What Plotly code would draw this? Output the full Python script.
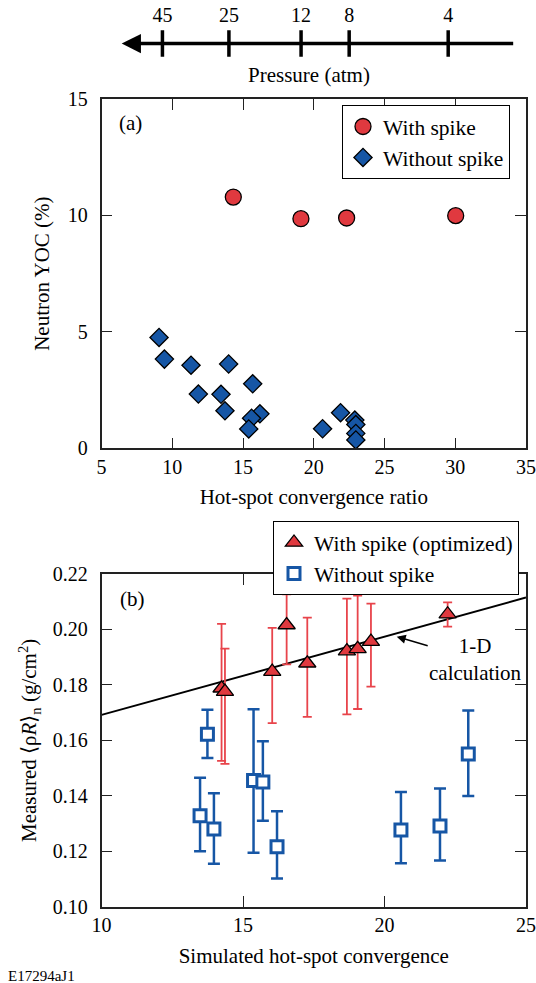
import plotly.graph_objects as go

# ---------------- data ----------------
# pressure scale (top arrow axis): pressure labels placed at convergence-ratio positions
pressure_labels = ["45", "25", "12", "8", "4"]
pressure_conv = [9.3, 14.0, 19.1, 22.5, 29.5]
pressure_arrow_x = [6.42, 34.2]

# panel (a): neutron YOC vs hot-spot convergence ratio
a_with_x = [14.31, 19.09, 22.32, 30.03]
a_with_y = [10.79, 9.86, 9.89, 9.99]
a_without_x = [9.06, 9.44, 11.32, 13.98, 15.68, 11.84, 13.44, 13.72, 16.19,
               15.60, 15.40, 20.62, 21.89, 22.90, 22.97, 22.97, 22.97]
a_without_y = [4.76, 3.83, 3.57, 3.62, 2.77, 2.33, 2.32, 1.61, 1.48,
               1.29, 0.83, 0.84, 1.53, 1.21, 1.02, 0.64, 0.36]

# panel (b): measured rhoR vs simulated convergence
b_with_x = [14.24, 14.36, 16.03, 16.54, 17.27, 18.67, 19.05, 19.52, 22.23]
b_with_y = [0.1788, 0.1776, 0.1848, 0.2016, 0.1878, 0.1922, 0.1930, 0.1956, 0.2055]
b_with_hi = [0.2020, 0.1931, 0.2006, 0.2127, 0.2043, 0.2111, 0.2122, 0.2093, 0.2098]
b_with_lo = [0.1526, 0.1515, 0.1662, 0.1874, 0.1685, 0.1694, 0.1713, 0.1794, 0.2010]

b_without_x = [13.48, 13.74, 13.97, 15.37, 15.70, 16.20, 20.58, 21.96, 22.96]
b_without_y = [0.1328, 0.1622, 0.1280, 0.1455, 0.1450, 0.1216, 0.1277, 0.1291, 0.1551]
b_without_hi = [0.1465, 0.1710, 0.1409, 0.1712, 0.1597, 0.1344, 0.1414, 0.1426, 0.1708]
b_without_lo = [0.1200, 0.1536, 0.1155, 0.1195, 0.1310, 0.1102, 0.1157, 0.1167, 0.1399]

calc_x = [10, 25]
calc_y = [0.1692, 0.2115]

# ---------------- style ----------------
W, H = 536, 983
FONT = "Liberation Serif, Times New Roman, serif"
RED = "#e0393f"
RED_ERR = "#e8444b"
BLUE = "#1656a5"
AX = "#222222"
TICK_SIZE = 20
TITLE_SIZE = 21

def px_x(p):
    return p / W

def px_y(p):
    return 1 - p / H

xdom = [px_x(101.6), px_x(526)]

fig = go.Figure()

# ---- pressure arrow axis ----
fig.add_trace(go.Scatter(
    x=pressure_conv, y=[0] * len(pressure_conv), mode="markers",
    marker=dict(symbol="line-ns", size=19, line=dict(width=3.5, color="black")),
    xaxis="x3", yaxis="y3", showlegend=False, hoverinfo="skip"))

# ---- panel (a) ----
fig.add_trace(go.Scatter(
    x=a_with_x, y=a_with_y, mode="markers", name="With spike",
    marker=dict(symbol="circle", size=16, color=RED, line=dict(width=1.3, color="black")),
    xaxis="x", yaxis="y", legend="legend"))
fig.add_trace(go.Scatter(
    x=a_without_x, y=a_without_y, mode="markers", name="Without spike",
    marker=dict(symbol="diamond", size=14, color=BLUE, line=dict(width=1.3, color="black")),
    xaxis="x", yaxis="y", legend="legend"))

# ---- panel (b) ----
fig.add_trace(go.Scatter(
    x=calc_x, y=calc_y, mode="lines", line=dict(color="black", width=2),
    xaxis="x2", yaxis="y2", showlegend=False, hoverinfo="skip"))
fig.add_trace(go.Scatter(
    x=b_with_x, y=b_with_y, mode="markers", name="With spike (optimized)",
    marker=dict(symbol="triangle-up", size=15, color=RED, line=dict(width=1.3, color="black")),
    error_y=dict(type="data", symmetric=False,
                 array=[h - y for h, y in zip(b_with_hi, b_with_y)],
                 arrayminus=[y - l for y, l in zip(b_with_y, b_with_lo)],
                 color=RED_ERR, thickness=1.8, width=4.5),
    xaxis="x2", yaxis="y2", legend="legend2"))
fig.add_trace(go.Scatter(
    x=b_without_x, y=b_without_y, mode="markers", name="Without spike",
    marker=dict(symbol="square", size=12, color="white", line=dict(width=3, color=BLUE)),
    error_y=dict(type="data", symmetric=False,
                 array=[h - y for h, y in zip(b_without_hi, b_without_y)],
                 arrayminus=[y - l for y, l in zip(b_without_y, b_without_lo)],
                 color=BLUE, thickness=2.5, width=6),
    xaxis="x2", yaxis="y2", legend="legend2"))

axis_common = dict(showgrid=False, zeroline=False, showline=True, linecolor=AX, linewidth=1.5,
                   mirror="ticks", ticks="inside", ticklen=11, tickwidth=1.3, tickcolor=AX,
                   automargin=False,
                   tickfont=dict(family=FONT, size=TICK_SIZE, color="black"),
                   title_font=dict(family=FONT, size=TITLE_SIZE, color="black"))

LEG_FONT = dict(family=FONT, size=21.5, color="black")

fig.update_layout(
    width=W, height=H, margin=dict(l=0, r=0, t=0, b=0),
    paper_bgcolor="white", plot_bgcolor="white",
    font=dict(family=FONT, size=TICK_SIZE, color="black"),
    xaxis=dict(domain=xdom, anchor="y", range=[5, 35], tickvals=[5, 10, 15, 20, 25, 30, 35],
               title=dict(text="Hot-spot convergence ratio", standoff=12), **axis_common),
    yaxis=dict(domain=[px_y(448.3), px_y(99)], anchor="x", range=[0, 15], tickvals=[0, 5, 10, 15],
               title=dict(text="Neutron YOC (%)", standoff=12), ticklabelstandoff=8, **axis_common),
    xaxis2=dict(domain=xdom, anchor="y2", range=[10, 25], tickvals=[10, 15, 20, 25],
                title=dict(text="Simulated hot-spot convergence", standoff=13), **axis_common),
    yaxis2=dict(domain=[px_y(906.7), px_y(574)], anchor="x2", range=[0.10, 0.22],
                tickvals=[0.10, 0.12, 0.14, 0.16, 0.18, 0.20, 0.22], tickformat=".2f",
                title=dict(text="Measured \u27e8\u03c1<i>R</i>\u27e9<sub>n</sub> (g/cm<sup>2</sup>)", standoff=10),
                ticklabelstandoff=8, **axis_common),
    xaxis3=dict(domain=xdom, anchor="y3", range=[5, 35], side="top",
                tickvals=pressure_conv, ticktext=pressure_labels, ticks="",
                showline=False, showgrid=False, zeroline=False, automargin=False,
                tickfont=dict(family=FONT, size=TICK_SIZE, color="black")),
    yaxis3=dict(domain=[px_y(60), px_y(27)], anchor="x3", range=[-1, 1], visible=False,
                automargin=False),
    legend=dict(x=px_x(342), y=px_y(105), xanchor="left", yanchor="top",
                bordercolor="black", borderwidth=1, bgcolor="white",
                font=LEG_FONT, itemwidth=30, tracegroupgap=0),
    legend2=dict(x=px_x(273), y=px_y(521), xanchor="left", yanchor="top",
                 bordercolor="black", borderwidth=1, bgcolor="white",
                 font=LEG_FONT, itemwidth=30, tracegroupgap=0),
)

# top arrow
fig.add_annotation(x=pressure_arrow_x[0], y=0, ax=pressure_arrow_x[1], ay=0,
                   xref="x3", yref="y3", axref="x3", ayref="y3", text="",
                   showarrow=True, arrowhead=2, arrowsize=1.1, arrowwidth=3.5, arrowcolor="black")
fig.add_annotation(x=px_x(308.8), y=px_y(75), xref="paper", yref="paper", text="Pressure (atm)",
                   xanchor="center", yanchor="middle",
                   showarrow=False, font=dict(family=FONT, size=TITLE_SIZE, color="black"))

# panel labels
fig.add_annotation(x=px_x(130.7), y=px_y(123.3), xref="paper", yref="paper", text="(a)",
                   xanchor="center", yanchor="middle",
                   showarrow=False, font=dict(family=FONT, size=TITLE_SIZE, color="black"))
fig.add_annotation(x=px_x(132.7), y=px_y(599), xref="paper", yref="paper", text="(b)",
                   xanchor="center", yanchor="middle",
                   showarrow=False, font=dict(family=FONT, size=TITLE_SIZE, color="black"))

# 1-D calculation label
fig.add_annotation(x=20.43, y=0.1974, xref="x2", yref="y2",
                   text="1-D<br>calculation", showarrow=True, ax=79, ay=23,
                   arrowhead=2, arrowsize=1.2, arrowwidth=1.5, arrowcolor="black",
                   font=dict(family=FONT, size=TITLE_SIZE, color="black"), align="center")

# figure id
fig.add_annotation(x=px_x(6), y=px_y(976), xref="paper", yref="paper", text="E17294aJ1",
                   xanchor="left", yanchor="middle",
                   showarrow=False, font=dict(family=FONT, size=15, color="black"))

fig.write_html("out.html", config={"displayModeBar": False},
               post_script="document.body.style.margin='0px';")
